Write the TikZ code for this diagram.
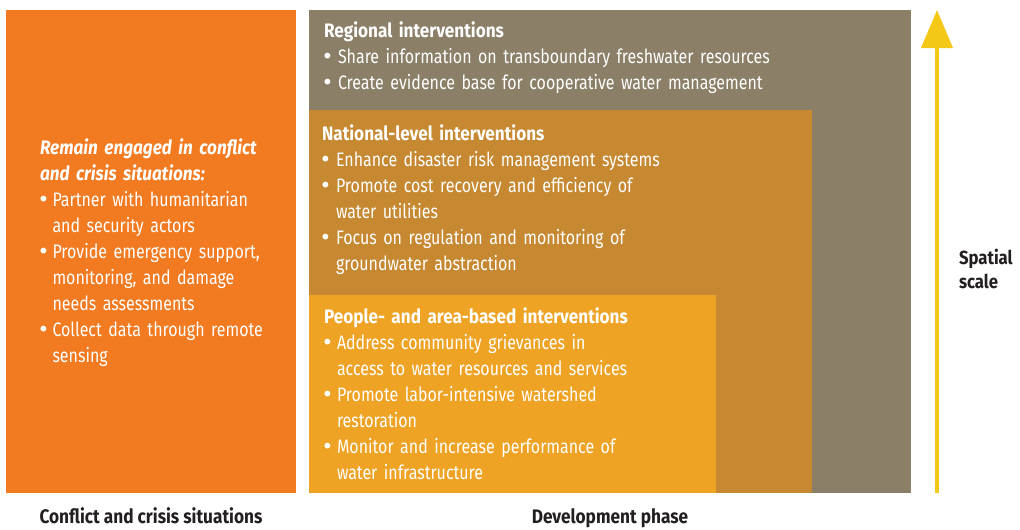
\documentclass[tikz,border=0pt]{standalone}
\usepackage{fontspec}
\setmainfont{Fira Sans}[FakeStretch=0.82,
  BoldFeatures={FakeStretch=0.88},
  BoldItalicFeatures={FakeStretch=0.88}]
\newfontfamily\bulfont{DejaVu Sans}
\usetikzlibrary{arrows.meta}
\definecolor{cOrange}{HTML}{F27A21}
\definecolor{cGray}{HTML}{8B7F68}
\definecolor{cNational}{HTML}{C68831}
\definecolor{cPeople}{HTML}{EFA324}
\definecolor{cYellow}{HTML}{F3C817}
\definecolor{cDark}{HTML}{231F20}
\newlength\bw
\setlength\bw{13pt}
\newcommand\bul{\makebox[\bw][l]{\kern-2.5pt{\bulfont\fontsize{20}{26}\selectfont\textbullet}}}
\newcommand\ind{\hspace*{\bw}}
\begin{document}
\begin{tikzpicture}[x=1pt,y=-1pt,
  panel/.style={rectangle, inner sep=0, outer sep=0, anchor=north west, draw=none},
  txt/.style={anchor=base west, inner sep=0, outer sep=0, text width=480pt, align=left,
    text=white, font=\fontsize{19.5}{26}\selectfont},
  lbl/.style={anchor=base west, inner sep=0, outer sep=0, text=cDark,
    font=\fontsize{19.6}{24}\selectfont\bfseries, align=left},
  scalearrow/.style={draw=cYellow, line width=4pt, -{Triangle[width=31pt,length=38pt]}}
]
\useasboundingbox (0,0) rectangle (1020,530);
% panels
\node[panel, fill=cOrange, minimum width=290pt, minimum height=483pt] (conflict) at (6,10) {};
\node[panel, fill=cGray, minimum width=602pt, minimum height=483pt] (regional) at (309,10) {};
\node[panel, fill=cNational, minimum width=503pt, minimum height=383pt] (national) at (309,110) {};
\node[panel, fill=cPeople, minimum width=407pt, minimum height=198pt] (people) at (309,295) {};
% texts
\node[txt, text width=250pt] (conflicttext) at (40,154) {\setlength\bw{12.5pt}%
  \textbf{\textit{Remain engaged in conflict}}\\
  \textbf{\textit{and crisis situations:}}\\
  \bul Partner with humanitarian\\
  \ind and security actors\\
  \bul Provide emergency support,\\
  \ind monitoring, and damage\\
  \ind needs assessments\\
  \bul Collect data through remote\\
  \ind sensing};
\node[txt] (regionaltext) at (324,37) {\setlength\bw{14pt}%
  \textbf{Regional interventions}\\
  \bul Share information on transboundary freshwater resources\\
  \bul Create evidence base for cooperative water management};
\node[txt] (nationaltext) at (322,140) {\setlength\bw{14pt}%
  \textbf{National-level interventions}\\
  \bul Enhance disaster risk management systems\\
  \bul Promote cost recovery and efficiency of\\
  \ind water utilities\\
  \bul Focus on regulation and monitoring of\\
  \ind groundwater abstraction};
\node[txt] (peopletext) at (324,323) {\setlength\bw{13pt}%
  \textbf{People- and area-based interventions}\\
  \bul Address community grievances in\\
  \ind access to water resources and services\\
  \bul Promote labor-intensive watershed\\
  \ind restoration\\
  \bul Monitor and increase performance of\\
  \ind water infrastructure};
% axis labels
\node[lbl, anchor=base] (conflictlbl) at (151,523) {Conflict and crisis situations};
\node[lbl, anchor=base] (devlbl) at (610,523) {Development phase};
\node[lbl, text width=60pt, font=\fontsize{19}{24}\selectfont\bfseries] (spatiallbl) at (959,264) {Spatial\\scale};
% arrow
\coordinate (arrowfoot) at (937,493);
\coordinate (arrowtip) at (937,10);
\draw[scalearrow] (arrowfoot) -- (arrowtip);
\end{tikzpicture}
\end{document}
